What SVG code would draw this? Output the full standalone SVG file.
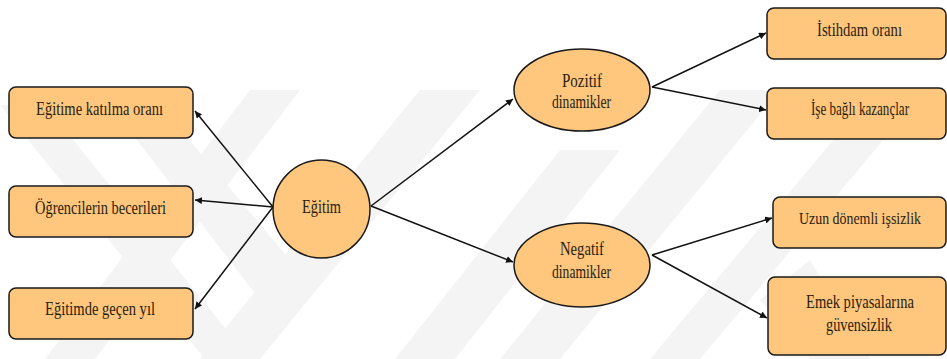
<svg xmlns="http://www.w3.org/2000/svg" width="947" height="359" viewBox="0 0 947 359">
<style>
.box{fill:#FFC77D;stroke:#1a1a1a;stroke-width:1.5}
.lbl{font-family:"Liberation Serif","Times New Roman",serif;font-size:18px;fill:#2a1d10;text-anchor:middle}
.edge{stroke:#111;stroke-width:1.5;fill:none;marker-end:url(#ah)}
.wm{fill:#f4f4f4}
</style>
<defs>
<marker id="ah" viewBox="0 0 10 10" refX="10" refY="5" markerWidth="7" markerHeight="7" orient="auto" markerUnits="userSpaceOnUse">
<path d="M0,0 L10,5 L0,10 z" fill="#111"/>
</marker>
</defs>
<rect width="947" height="359" fill="#ffffff"/>
<g id="watermark">
<polygon class="wm" points="0,105 45,105 250,359 205,359"/>
<polygon class="wm" points="110,105 160,105 290,260 260,300"/>
<polygon class="wm" points="250,90 300,90 95,359 45,359"/>
<polygon class="wm" points="420,90 480,90 260,359 200,359"/>
<polygon class="wm" points="560,150 620,150 455,359 395,359"/>
<polygon class="wm" points="720,90 780,90 560,359 500,359"/>
<polygon class="wm" points="850,120 900,120 700,359 650,359"/>
<polygon class="wm" points="760,300 810,260 870,359 810,359"/>
</g>
<g id="connectors">
<line class="edge" x1="273" y1="207" x2="195" y2="111"/>
<line class="edge" x1="273" y1="207" x2="195" y2="200"/>
<line class="edge" x1="273" y1="207" x2="195" y2="309"/>
<line class="edge" x1="371" y1="206" x2="513" y2="99"/>
<line class="edge" x1="371" y1="206" x2="513" y2="262"/>
<line class="edge" x1="652" y1="87" x2="766" y2="33"/>
<line class="edge" x1="652" y1="87" x2="766" y2="110"/>
<line class="edge" x1="652" y1="255" x2="772" y2="218"/>
<line class="edge" x1="652" y1="255" x2="767" y2="318"/>
</g>
<g id="n-katilma"><rect class="box" x="9" y="87" width="184" height="51" rx="7"/><text class="lbl" x="99.5" y="115" textLength="127" lengthAdjust="spacingAndGlyphs">Eğitime katılma oranı</text></g>
<g id="n-beceri"><rect class="box" x="9" y="186" width="184" height="51" rx="7"/><text class="lbl" x="100.5" y="214" textLength="131" lengthAdjust="spacingAndGlyphs">Öğrencilerin becerileri</text></g>
<g id="n-yil"><rect class="box" x="9" y="288" width="184" height="51" rx="7"/><text class="lbl" x="100" y="315" textLength="110" lengthAdjust="spacingAndGlyphs">Eğitimde geçen yıl</text></g>
<g id="n-egitim"><ellipse class="box" cx="321.5" cy="209" rx="48.5" ry="49"/><text class="lbl" x="321.5" y="213" textLength="39" lengthAdjust="spacingAndGlyphs">Eğitim</text></g>
<g id="n-pozitif"><ellipse class="box" cx="582" cy="90" rx="68" ry="41"/><text class="lbl" x="582" y="87" textLength="40" lengthAdjust="spacingAndGlyphs">Pozitif</text><text class="lbl" x="581.5" y="108" textLength="59" lengthAdjust="spacingAndGlyphs">dinamikler</text></g>
<g id="n-negatif"><ellipse class="box" cx="582" cy="265" rx="68" ry="42"/><text class="lbl" x="582" y="255" textLength="44" lengthAdjust="spacingAndGlyphs">Negatif</text><text class="lbl" x="581.5" y="278" textLength="59" lengthAdjust="spacingAndGlyphs">dinamikler</text></g>
<g id="n-istihdam"><rect class="box" x="767" y="8" width="179" height="51" rx="7"/><text class="lbl" x="859.5" y="36" textLength="85" lengthAdjust="spacingAndGlyphs">İstihdam oranı</text></g>
<g id="n-kazanc"><rect class="box" x="767" y="88" width="179" height="51" rx="7"/><text class="lbl" x="860" y="115" textLength="98" lengthAdjust="spacingAndGlyphs">İşe bağlı kazançlar</text></g>
<g id="n-issizlik"><rect class="box" x="773" y="197" width="173" height="51" rx="7"/><text class="lbl" x="860" y="224" textLength="122" lengthAdjust="spacingAndGlyphs" style="font-size:17px">Uzun dönemli işsizlik</text></g>
<g id="n-guvensiz"><rect class="box" x="768" y="277" width="178" height="78" rx="7"/><text class="lbl" x="860" y="308" textLength="108" lengthAdjust="spacingAndGlyphs">Emek piyasalarına</text><text class="lbl" x="859" y="331" textLength="66" lengthAdjust="spacingAndGlyphs">güvensizlik</text></g>
</svg>
